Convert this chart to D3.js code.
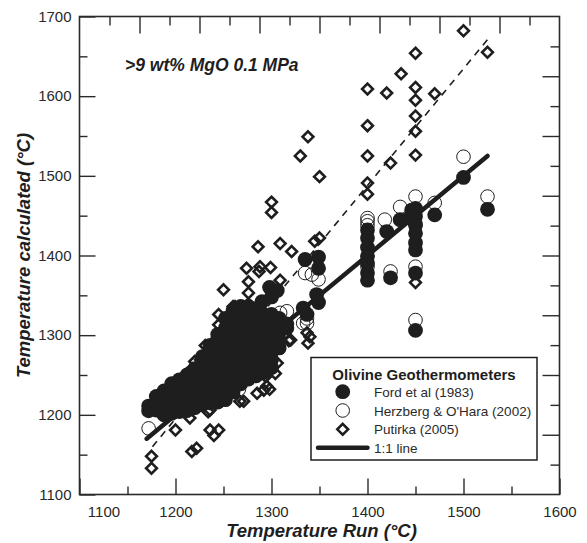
<!DOCTYPE html>
<html><head><meta charset="utf-8">
<script src="https://cdn.jsdelivr.net/npm/d3@7"></script>
<style>body{margin:0;background:#fff}svg{display:block}</style>
</head><body>
<svg id="c" width="587" height="543"></svg>
<script>
// ---- tick values ----
const xMajor = [1100, 1200, 1300, 1400, 1500, 1600];
const xMinor = [1150, 1250, 1350, 1450, 1550];
const yMajor = [1100, 1200, 1300, 1400, 1500, 1600, 1700];
const yMinor = [1150, 1250, 1350, 1450, 1550, 1650];
const mirrorMajor = [2, 4, 6, 8, 10, 12, 14];
const mirrorMinor = [1, 3, 5, 7, 9, 11, 13, 15];

// ---- series: [T run, T calculated] ----
const ford = [
  [1172,1205],[1172,1211],
  [1180,1206],[1180,1215],[1180,1223],
  [1188,1200],[1188,1210],[1188,1220],[1188,1230],
  [1196,1202],[1196,1212],[1196,1222],[1196,1232],[1196,1239],
  [1204,1204],[1204,1214],[1204,1224],[1204,1234],[1204,1244],
  [1212,1205],[1212,1215],[1212,1225],[1212,1235],[1212,1245],[1212,1250],
  [1220,1209],[1220,1219],[1220,1229],[1220,1239],[1220,1249],[1220,1258],
  [1228,1213],[1228,1223],[1228,1233],[1228,1243],[1228,1253],[1228,1263],[1228,1273],
  [1236,1215],[1236,1225],[1236,1235],[1236,1245],[1236,1255],[1236,1265],[1236,1275],[1236,1287],
  [1244,1216],[1244,1226],[1244,1236],[1244,1246],[1244,1256],[1244,1266],[1244,1276],[1244,1286],[1244,1296],[1244,1301],
  [1252,1219],[1252,1229],[1252,1239],[1252,1249],[1252,1259],[1252,1269],[1252,1279],[1252,1289],[1252,1299],[1252,1309],[1252,1321],
  [1260,1229],[1260,1239],[1260,1249],[1260,1259],[1260,1269],[1260,1279],[1260,1289],[1260,1299],[1260,1309],[1260,1319],[1260,1331],
  [1268,1239],[1268,1249],[1268,1259],[1268,1269],[1268,1279],[1268,1289],[1268,1299],[1268,1309],[1268,1319],[1268,1329],[1268,1336],
  [1276,1245],[1276,1255],[1276,1265],[1276,1275],[1276,1285],[1276,1295],[1276,1305],[1276,1315],[1276,1325],[1276,1336],
  [1284,1249],[1284,1259],[1284,1269],[1284,1279],[1284,1289],[1284,1299],[1284,1309],[1284,1319],[1284,1331],
  [1292,1253],[1292,1263],[1292,1273],[1292,1283],[1292,1293],[1292,1303],[1292,1313],[1292,1326],
  [1300,1259],[1300,1269],[1300,1279],[1300,1289],[1300,1299],[1300,1309],[1300,1319],[1300,1326],
  [1308,1284],[1308,1294],[1308,1304],[1308,1314],[1308,1321],
  [1316,1309],[1316,1314],
  [1298,1360],[1306,1356],[1300,1348],[1290,1342],
  [1335,1395],[1349,1398],[1349,1384],[1347,1351],[1349,1341],[1333,1334],[1337,1326],
  [1400,1432],[1400,1422],[1400,1410],[1400,1399],[1400,1390],[1400,1378],[1400,1369],
  [1420,1430],[1424,1372],[1434,1445],[1444,1447],[1446,1457],
  [1450,1459],[1450,1449],[1450,1438],[1450,1428],[1450,1416],[1450,1407],[1450,1378],[1450,1306],
  [1470,1451],[1500,1498],[1525,1458]
];
const herzberg = [
  [1172,1183],[1190,1205],[1200,1215],[1210,1225],[1220,1230],[1230,1240],[1240,1250],
  [1250,1260],[1260,1270],[1270,1262],[1280,1290],[1290,1280],[1300,1300],
  [1266,1232],[1309,1328],[1316,1330],[1333,1315],[1337,1321],[1337,1315],
  [1335,1378],[1342,1376],[1349,1370],
  [1400,1447],[1400,1443],[1400,1438],[1400,1386],
  [1418,1445],[1424,1380],[1434,1461],
  [1450,1474],[1450,1440],[1450,1386],[1450,1319],
  [1470,1466],[1500,1524],[1525,1474]
];
const putirka = [
  [1500,1682],[1525,1655],[1450,1654],[1435,1628],[1400,1609],[1420,1604],[1450,1611],
  [1450,1595],[1470,1603],[1450,1575],[1400,1563],[1450,1556],[1338,1549],[1330,1525],
  [1400,1525],[1424,1516],[1450,1526],[1350,1499],[1400,1491],[1400,1477],[1300,1467],
  [1300,1454],[1345,1418],[1350,1422],[1286,1411],[1309,1415],[1321,1405],[1274,1384],
  [1288,1386],[1299,1385],[1287,1380],[1250,1357],[1276,1367],[1309,1369],[1276,1353],
  [1276,1339],[1245,1326],[1245,1313],[1262,1336],[1267,1328],[1285,1336],[1290,1330],
  [1295,1323],[1340,1298],[1338,1290],[1320,1294],[1311,1307],[1337,1303],[1450,1366],
  [1236,1286],[1226,1269],[1215,1255],[1208,1246],[1267,1217],[1292,1231],[1295,1236],
  [1236,1206],[1215,1196],[1200,1181],[1236,1181],[1240,1174],[1222,1158],[1217,1154],
  [1175,1148],[1175,1133],[1234,1204],[1245,1181],[1285,1227],[1298,1232],[1294,1248],
  [1304,1252],[1306,1265],[1318,1293],[1260,1336],[1257,1323],[1231,1287],[1220,1267],
  [1212,1252],[1205,1243],[1271,1217],
  [1200,1225],[1220,1240],[1240,1260],[1260,1280],[1280,1300],[1300,1290],[1250,1245],
  [1270,1270],[1290,1310],[1230,1250],[1210,1230],[1280,1260]
];
const oneToOne = [[1170,1170],[1525,1525]];
const putirkaFit = [[1176,1160],[1525,1671]];

// ---- layout ----
const svg = d3.select('#c');
const font = '"Liberation Sans", Arial, Helvetica, sans-serif';
const ink = '#1e1e1e';
const X0 = 79.5, X1 = 559.5, Y0 = 494.5, Y1 = 16.5;
const x = d3.scaleLinear().domain([1100,1600]).range([X0,X1]);
const y = d3.scaleLinear().domain([1100,1700]).range([Y0,Y1]);
const mx = d3.scaleLinear().domain([0,16]).range([X0,X1]);
const my = d3.scaleLinear().domain([0,16]).range([Y0,Y1]);

function tidy(sel){
  sel.select('.domain').remove();
  sel.selectAll('line').attr('stroke','#2a2a2a').attr('stroke-width',1.4);
  sel.selectAll('text').attr('font-family',font).attr('font-size',15).attr('fill','#2a2a2a');
}
const fmt = d3.format('d');
svg.append('g').attr('transform',`translate(0,${Y0})`)
  .call(d3.axisBottom(x).tickValues(xMajor).tickSize(-16).tickPadding(12).tickFormat(fmt)).call(tidy)
  .selectAll('text').filter(d=>d===1100).attr('dx',24);
svg.append('g').attr('transform',`translate(0,${Y0})`)
  .call(d3.axisBottom(x).tickValues(xMinor).tickSize(-8).tickFormat('')).call(tidy);
svg.append('g').attr('transform',`translate(${X0},0)`)
  .call(d3.axisLeft(y).tickValues(yMajor).tickSize(-16).tickPadding(8).tickFormat(fmt)).call(tidy);
svg.append('g').attr('transform',`translate(${X0},0)`)
  .call(d3.axisLeft(y).tickValues(yMinor).tickSize(-8).tickFormat('')).call(tidy);
svg.append('g').attr('transform',`translate(0,${Y1})`)
  .call(d3.axisTop(mx).tickValues(mirrorMajor).tickSize(-17).tickFormat('')).call(tidy);
svg.append('g').attr('transform',`translate(0,${Y1})`)
  .call(d3.axisTop(mx).tickValues(mirrorMinor).tickSize(-9).tickFormat('')).call(tidy);
svg.append('g').attr('transform',`translate(${X1},0)`)
  .call(d3.axisRight(my).tickValues(mirrorMajor).tickSize(-17).tickFormat('')).call(tidy);
svg.append('g').attr('transform',`translate(${X1},0)`)
  .call(d3.axisRight(my).tickValues(mirrorMinor).tickSize(-9).tickFormat('')).call(tidy);

svg.append('rect').attr('x',X0).attr('y',Y1).attr('width',X1-X0).attr('height',Y0-Y1)
  .attr('fill','none').attr('stroke','#2a2a2a').attr('stroke-width',1.6);

// ---- lines ----
const line = d3.line().x(d=>x(d[0])).y(d=>y(d[1]));
svg.append('path').datum(putirkaFit).attr('d',line).attr('fill','none')
  .attr('stroke',ink).attr('stroke-width',1.6).attr('stroke-dasharray','7,6');

// ---- markers ----
const diamond = 'M0,-5.4L5.4,0L0,5.4L-5.4,0Z';
svg.append('g').selectAll('path').data(putirka).join('path')
  .attr('d',diamond).attr('transform',d=>`translate(${x(d[0])},${y(d[1])})`)
  .attr('fill','none').attr('stroke',ink).attr('stroke-width',2.6).attr('stroke-linejoin','miter');
svg.append('g').selectAll('circle').data(herzberg).join('circle')
  .attr('cx',d=>x(d[0])).attr('cy',d=>y(d[1])).attr('r',6.8)
  .attr('fill','none').attr('stroke',ink).attr('stroke-width',1);
svg.append('path').datum(oneToOne).attr('d',line).attr('fill','none')
  .attr('stroke',ink).attr('stroke-width',4.5).attr('stroke-linecap','round');
svg.append('g').selectAll('circle').data(ford).join('circle')
  .attr('cx',d=>x(d[0])).attr('cy',d=>y(d[1])).attr('r',7.4)
  .attr('fill',ink).attr('stroke','none');

// ---- texts ----
svg.append('text').attr('x',125).attr('y',71).attr('font-family',font)
  .attr('font-size',17.5).attr('font-weight','bold').attr('font-style','italic').attr('fill',ink)
  .text('>9 wt% MgO 0.1 MPa');
svg.append('text').attr('x',(X0+X1)/2+2).attr('y',537).attr('text-anchor','middle')
  .attr('font-family',font).attr('font-size',18.5).attr('font-weight','bold').attr('font-style','italic').attr('fill',ink)
  .text('Temperature Run (°C)');
svg.append('text').attr('transform',`translate(30,${(Y0+Y1)/2}) rotate(-90)`).attr('text-anchor','middle')
  .attr('font-family',font).attr('font-size',18.5).attr('font-weight','bold').attr('font-style','italic').attr('fill',ink)
  .text('Temperature calculated (°C)');

// ---- legend ----
const lg = svg.append('g');
lg.append('rect').attr('x',311).attr('y',357.5).attr('width',226).attr('height',102.5)
  .attr('fill','#fff').attr('stroke',ink).attr('stroke-width',1.5);
lg.append('text').attr('x',424).attr('y',379.5).attr('text-anchor','middle')
  .attr('font-family',font).attr('font-size',15).attr('font-weight','bold').attr('fill',ink)
  .text('Olivine Geothermometers');
const items = ['Ford et al (1983)','Herzberg & O\'Hara (2002)','Putirka (2005)','1:1 line'];
const rows = [391.7, 410.5, 429.3, 447.8];
lg.append('circle').attr('cx',342.7).attr('cy',rows[0]).attr('r',7.4).attr('fill',ink);
lg.append('circle').attr('cx',342.7).attr('cy',rows[1]).attr('r',6.8).attr('fill','none').attr('stroke',ink).attr('stroke-width',1);
lg.append('path').attr('d',diamond).attr('transform',`translate(342.7,${rows[2]})`)
  .attr('fill','none').attr('stroke',ink).attr('stroke-width',2.6);
lg.append('line').attr('x1',318).attr('x2',367.5).attr('y1',rows[3]).attr('y2',rows[3])
  .attr('stroke',ink).attr('stroke-width',4.5).attr('stroke-linecap','round');
lg.selectAll('text.item').data(items).join('text').attr('class','item')
  .attr('x',374).attr('y',(d,i)=>rows[i]+5).attr('font-family',font).attr('font-size',13.5).attr('fill','#2a2a2a')
  .text(d=>d);
</script>
</body></html>
